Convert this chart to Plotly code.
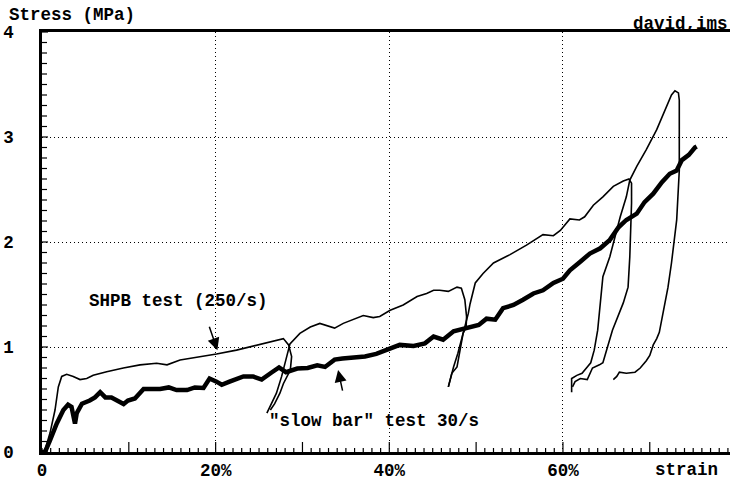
import plotly.graph_objects as go

# ---- data (strain in %, stress in MPa) ----
shpb1_x = [0, 0.35, 0.92, 1.5, 1.88, 2.27, 2.84, 3.6, 4.38, 5.15, 5.9, 7.45, 9.37, 11.29, 13.2, 14.4,
           15.9, 17.8, 20.1, 22.4, 24.3, 26.2, 27.8, 28.4, 28.75, 28.6, 28.2, 27.8, 27.4, 26.8, 26.3]
shpb1_y = [0, 0.02, 0.18, 0.40, 0.62, 0.72, 0.74, 0.72, 0.69, 0.70, 0.73, 0.765, 0.80, 0.83, 0.845, 0.83,
           0.876, 0.90, 0.933, 0.97, 1.01, 1.05, 1.08, 1.02, 0.91, 0.78, 0.72, 0.65, 0.56, 0.46, 0.40]

shpb2_x = [25.9, 26.4, 27.0, 27.6, 28.0, 28.4, 28.56, 29.7, 30.9, 32.0, 33.2, 33.7, 34.7, 35.85, 37.0,
           38.15, 38.9, 40.1, 41.6, 43.2, 44.3, 45.1, 45.8, 46.8, 47.8, 48.3, 48.7, 48.9, 48.85, 48.5,
           48.1, 47.8, 47.2, 46.8]
shpb2_y = [0.37, 0.46, 0.56, 0.72, 0.84, 0.97, 1.03, 1.13, 1.19, 1.225, 1.19, 1.18, 1.225, 1.26, 1.30,
           1.28, 1.29, 1.35, 1.40, 1.48, 1.51, 1.54, 1.54, 1.53, 1.57, 1.56, 1.45, 1.29, 1.19, 1.13,
           0.94, 0.81, 0.75, 0.62]

shpb3_x = [46.8, 47.4, 47.9, 48.3, 48.7, 49.1, 49.3, 49.9, 50.8, 52.0, 53.9, 55.8, 57.7, 58.9, 59.7,
           60.8, 61.9, 62.5, 63.5, 64.6, 65.8, 66.95, 67.6, 67.9, 67.9, 67.85, 67.7, 67.5, 66.95, 65.7,
           65.2, 65.0, 64.6, 64.2, 63.4, 62.8, 62.0, 61.4, 61.1]
shpb3_y = [0.62, 0.81, 0.94, 1.06, 1.19, 1.32, 1.41, 1.61, 1.70, 1.80, 1.88, 1.97, 2.07, 2.06, 2.11,
           2.22, 2.21, 2.24, 2.35, 2.43, 2.53, 2.58, 2.60, 2.56, 2.37, 2.21, 1.86, 1.57, 1.42, 1.16,
           1.02, 0.94, 0.85, 0.83, 0.80, 0.69, 0.70, 0.67, 0.62]

shpb4_x = [61.0, 61.0, 61.6, 62.2, 62.8, 63.2, 63.6, 64.0, 64.6, 65.4, 66.0, 66.6, 67.3, 67.7, 68.5,
           69.6, 70.8, 71.9, 72.5, 72.9, 73.3, 73.4, 73.4, 73.1, 72.9, 72.5, 72.1, 71.6, 71.1, 70.8,
           70.4, 70.0, 69.6, 68.9, 68.3, 67.3, 66.5, 66.2, 65.8]
shpb4_y = [0.57, 0.70, 0.73, 0.75, 0.81, 0.85, 0.97, 1.16, 1.67, 1.86, 2.05, 2.24, 2.43, 2.59, 2.72,
           2.88, 3.07, 3.29, 3.40, 3.44, 3.42, 3.35, 2.68, 2.21, 2.05, 1.80, 1.57, 1.35, 1.14, 1.08,
           1.02, 0.92, 0.87, 0.80, 0.76, 0.75, 0.76, 0.72, 0.69]

slow_x = [0, 0.35, 0.92, 1.69, 2.46, 3.0, 3.4, 3.6, 3.8, 4.0, 4.6, 5.5, 6.1, 6.7, 7.3, 8.0, 8.6, 9.4,
          9.9, 10.7, 11.7, 12.6, 13.6, 14.6, 15.5, 16.7, 17.6, 18.6, 19.3, 20.1, 20.7, 21.6, 23.2,
          24.3, 25.3, 26.4, 27.3, 28.1, 29.4, 30.6, 31.7, 32.6, 33.7, 34.6, 35.9, 37.2, 38.5, 39.9,
          41.2, 42.8, 44.1, 45.1, 46.2, 47.4, 48.9, 50.3, 51.2, 52.2, 53.1, 54.3, 55.4, 56.6, 57.7,
          58.9, 60.0, 60.8, 61.96, 63.1, 64.3, 65.4, 66.4, 67.3, 68.5, 69.4, 70.4, 71.4, 72.3, 73.1,
          73.7, 74.5, 75.2, 75.4]
slow_y = [0, 0.0, 0.11, 0.27, 0.40, 0.45, 0.43, 0.35, 0.27, 0.37, 0.46, 0.49, 0.52, 0.57, 0.52, 0.52,
          0.49, 0.457, 0.49, 0.51, 0.60, 0.60, 0.60, 0.615, 0.59, 0.59, 0.615, 0.61, 0.70, 0.67, 0.64,
          0.67, 0.72, 0.72, 0.69, 0.755, 0.805, 0.76, 0.795, 0.80, 0.825, 0.81, 0.88, 0.89, 0.895,
          0.91, 0.935, 0.985, 1.02, 1.01, 1.035, 1.10, 1.07, 1.15, 1.18, 1.21, 1.27, 1.26, 1.37, 1.40,
          1.45, 1.51, 1.54, 1.61, 1.65, 1.73, 1.81, 1.89, 1.94, 2.02, 2.14, 2.21, 2.27, 2.38, 2.46,
          2.57, 2.65, 2.68, 2.78, 2.83, 2.90, 2.91]

x_tickvals = [0, 20, 40, 60]
x_ticktext = ["0", "20%", "40%", "60%"]
x_longticks = [10, 20, 30, 40, 50, 60, 70]
x_minorticks = list(range(0, 80))
y_minorticks = [i / 10 for i in range(0, 41)]

FONT = "Liberation Mono"
FS = 17.5
XR = [0, 79.24]
YR = [0, 4]
PX_PER_X = 688 / (XR[1] - XR[0])   # pixels per % strain
PX_PER_Y = 420 / (YR[1] - YR[0])   # pixels per MPa

fig = go.Figure()
for xs, ys in [(shpb1_x, shpb1_y), (shpb2_x, shpb2_y), (shpb3_x, shpb3_y), (shpb4_x, shpb4_y)]:
    fig.add_trace(go.Scatter(x=xs, y=ys, mode="lines",
                             line=dict(color="black", width=1.6), showlegend=False, hoverinfo="skip"))
fig.add_trace(go.Scatter(x=slow_x, y=slow_y, mode="lines",
                         line=dict(color="black", width=4.5), showlegend=False, hoverinfo="skip"))

# inward tick marks along both axes, built from the tick lists
tx, ty = [], []
for v in x_minorticks:
    length = (10 if v in x_longticks else 4) / PX_PER_Y
    tx += [v, v, None]
    ty += [0, length, None]
for v in y_minorticks:
    length = (6 if abs(v - round(v)) < 1e-9 else 5) / PX_PER_X
    tx += [0, length, None]
    ty += [v, v, None]
fig.add_trace(go.Scatter(x=tx, y=ty, mode="lines", line=dict(color="black", width=1.2),
                         showlegend=False, hoverinfo="skip"))

fig.update_layout(
    template="none",
    width=731, height=482,
    margin=dict(l=42, r=1, t=32, b=30),
    paper_bgcolor="white", plot_bgcolor="white",
    font=dict(family=FONT, size=FS, color="black"),
    showlegend=False,
    xaxis=dict(range=XR, tickmode="array", tickvals=x_tickvals,
               ticktext=["<b>%s</b>" % t for t in x_ticktext],
               showgrid=True, gridcolor="black", gridwidth=1, griddash="1px,3px",
               zeroline=False, showline=True, linecolor="black", linewidth=2.5, mirror=True,
               ticks="", ticklabelstandoff=0,
               tickfont=dict(family=FONT, size=FS, color="black")),
    yaxis=dict(range=YR, tickmode="linear", tick0=0, dtick=1, tickprefix="<b>", ticksuffix="</b>",
               showgrid=True, gridcolor="black", gridwidth=1, griddash="1px,3px",
               zeroline=False, showline=True, linecolor="black", linewidth=2.5, mirror=False,
               ticks="", ticklabelstandoff=22,
               tickfont=dict(family=FONT, size=FS, color="black")),
)

ann_font = dict(family=FONT, size=FS, color="black")
fig.add_annotation(text="<b>Stress (MPa)</b>", xref="paper", yref="paper", x=-0.051, y=1.04,
                   xanchor="left", yanchor="middle", showarrow=False, font=ann_font)
fig.add_annotation(text="<b>david,ims</b>", xref="paper", yref="paper", x=1.0, y=1.02,
                   xanchor="right", yanchor="middle", showarrow=False,
                   font=dict(family=FONT, size=FS, color="black", lineposition="under"))
fig.add_annotation(text="<b>strain</b>", xref="x", yref="paper", x=78.1, y=-0.043,
                   xanchor="right", yanchor="middle", showarrow=False, font=ann_font)
fig.add_annotation(text="<b>SHPB test (250/s)</b>", x=15.7, y=1.44, xanchor="center",
                   yanchor="middle", showarrow=False, font=ann_font)
fig.add_annotation(text='<b>"slow bar" test 30/s</b>', x=38.2, y=0.295, xanchor="center",
                   yanchor="middle", showarrow=False, font=ann_font)
# arrows
fig.add_annotation(text=" ", x=20.2, y=0.97, ax=-12, ay=-35, showarrow=True,
                   arrowhead=2, arrowsize=1.6, arrowwidth=1.5, arrowcolor="black")
fig.add_annotation(text=" ", x=34.1, y=0.78, ax=7, ay=32, showarrow=True,
                   arrowhead=2, arrowsize=1.6, arrowwidth=1.5, arrowcolor="black")

fig.write_html("out.html")
